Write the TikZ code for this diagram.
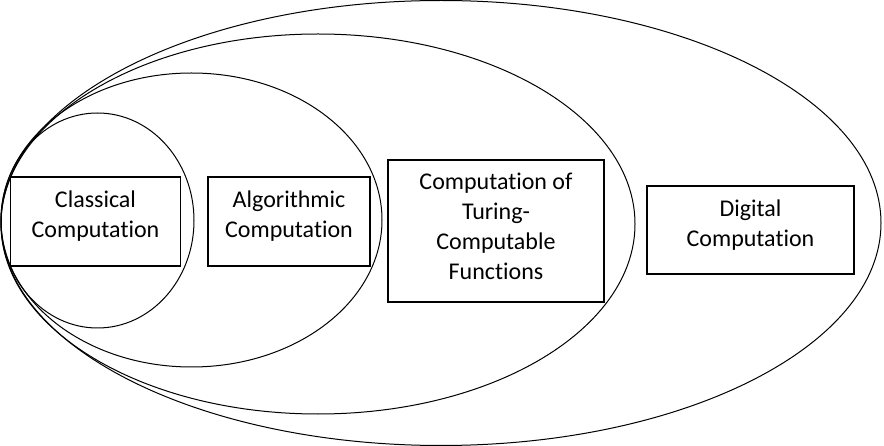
\documentclass[tikz,border=0pt]{standalone}
\usepackage{fontspec}
\setmainfont{Carlito}[Ligatures=NoCommon]
\usepackage{tikz}
\usetikzlibrary{positioning}

\begin{document}
\begin{tikzpicture}[
  x=1pt, y=-1pt,
  set/.style={line width=1pt},
  box/.style={rectangle, draw, line width=1.1pt, inner sep=0pt},
  boxtext/.style={align=center, inner sep=0pt, yshift=5pt, font=\fontsize{24}{30}\selectfont}
]
\useasboundingbox (0,0) rectangle (884,446);

% nested sets, all touching on the left
\draw[set] (441,223) ellipse [x radius=440, y radius=222.5];
\draw[set] (318,224) ellipse [x radius=317, y radius=190];
\draw[set] (191.5,220) ellipse [x radius=190.5, y radius=147];
\draw[set] (97.5,220.5) ellipse [x radius=96.5, y radius=107.5];

\node[box, minimum width=170, minimum height=89, label={[boxtext]center:Classical\\Computation}] (classical) at (95.5,221.5) {};
\node[box, minimum width=162, minimum height=89, label={[boxtext]center:Algorithmic\\Computation}] (algo) at (289,221.5) {};
\node[box, minimum width=216, minimum height=142, label={[boxtext]center:Computation of\\Turing-\\Computable\\Functions}] (turing) at (496,231) {};
\node[box, minimum width=207, minimum height=88, label={[boxtext]center:Digital\\Computation}] (digital) at (750.5,230) {};
\end{tikzpicture}
\end{document}
